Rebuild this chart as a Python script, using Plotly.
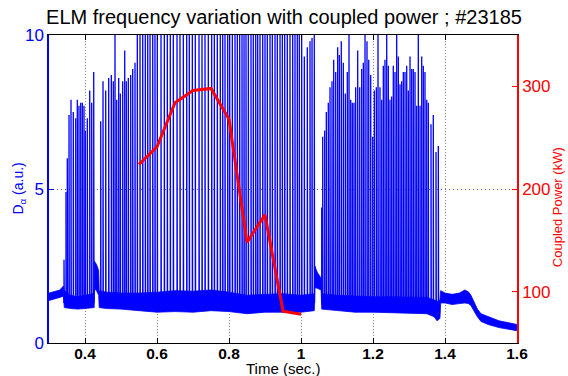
import plotly.graph_objects as go

# ---------------- data ----------------
# Coupled power (kW) vs time (s)
power_t = [0.55, 0.60, 0.65, 0.70, 0.75, 0.80, 0.85, 0.90, 0.95, 1.00]
power_kw = [224, 241, 284, 296, 298, 268, 148, 175, 81, 78]

# D-alpha baseline band (lower / upper envelope of the noisy baseline)
base_t = [0.300, 0.315, 0.330, 0.340, 0.3425, 0.360, 0.380, 0.400, 0.420, 0.4255,
          0.4265, 0.432, 0.438, 0.4395, 0.460, 0.500, 0.550, 0.600, 0.650, 0.700,
          0.750, 0.800, 0.850, 0.900, 0.950, 1.000, 1.037, 1.0385, 1.045, 1.056,
          1.0575, 1.100, 1.150, 1.200, 1.250, 1.300, 1.350, 1.370, 1.378, 1.386,
          1.388, 1.400, 1.420, 1.440, 1.455, 1.465, 1.472, 1.480, 1.490, 1.500,
          1.520, 1.550, 1.580, 1.600]
base_lo = [1.38, 1.42, 1.48, 1.52, 1.15, 1.12, 1.10, 1.12, 1.15, 1.15,
           1.75, 1.70, 1.55, 1.15, 1.12, 1.10, 1.05, 1.00, 1.02, 1.00,
           1.05, 1.02, 0.95, 1.00, 1.00, 1.00, 1.05, 1.80, 1.78, 1.72,
           1.10, 1.05, 1.00, 1.00, 0.98, 0.98, 0.95, 0.85, 0.72, 0.80,
           1.30, 1.30, 1.25, 1.28, 1.30, 1.28, 1.22, 1.05, 0.85, 0.70,
           0.60, 0.50, 0.45, 0.40]
base_hi = [1.62, 1.68, 1.72, 1.85, 1.70, 1.55, 1.50, 1.55, 1.60, 1.65,
           2.65, 2.55, 2.35, 1.70, 1.65, 1.62, 1.62, 1.65, 1.70, 1.68,
           1.72, 1.65, 1.55, 1.58, 1.60, 1.55, 1.60, 2.50, 2.30, 2.10,
           1.60, 1.55, 1.52, 1.50, 1.50, 1.50, 1.48, 1.40, 1.35, 1.40,
           1.70, 1.62, 1.58, 1.62, 1.72, 1.66, 1.55, 1.35, 1.10, 0.95,
           0.85, 0.72, 0.65, 0.60]

# ELM spikes: times (s) and peak heights (a.u.; 10 = clipped at top)
elm_t = [0.3417, 0.3472, 0.3508, 0.3556, 0.3611, 0.3675, 0.3742, 0.3786, 0.3833, 0.3881,
         0.3925, 0.3972, 0.4008, 0.4064, 0.4131, 0.4186, 0.4242,
         0.4436, 0.4500, 0.4575, 0.4658, 0.4731, 0.4786, 0.4833, 0.4881, 0.4936, 0.4981,
         0.5047, 0.5103, 0.5147, 0.5203, 0.5269, 0.5325, 0.5389, 0.5453, 0.5528, 0.5603,
         0.5675, 0.5742, 0.5806, 0.5881, 0.5944, 0.6008, 0.6111, 0.6203, 0.6286, 0.6369,
         0.6453, 0.6556, 0.6639, 0.6731, 0.6825, 0.6897, 0.6981, 0.7064, 0.7167, 0.7250,
         0.7333, 0.7425, 0.7519, 0.7592, 0.7675, 0.7758, 0.7825, 0.7889, 0.7964, 0.8019,
         0.8092, 0.8167, 0.8231, 0.8297, 0.8361, 0.8417, 0.8472, 0.8536, 0.8611, 0.8675,
         0.8742, 0.8797, 0.8861, 0.8936, 0.9000, 0.9064, 0.9139, 0.9203, 0.9278, 0.9342,
         0.9417, 0.9481, 0.9547, 0.9619, 0.9694, 0.9769, 0.9833, 0.9897, 0.9953, 1.0019,
         1.0092, 1.0175, 1.0250, 1.0306, 1.0369,
         1.0575, 1.0603, 1.0658, 1.0703, 1.0758, 1.0806, 1.0861, 1.0908, 1.0964, 1.1019,
         1.1064, 1.1119, 1.1175, 1.1231, 1.1286, 1.1333, 1.1381, 1.1425, 1.1472, 1.1519,
         1.1575, 1.1631, 1.1686, 1.1731, 1.1778, 1.1833, 1.1881, 1.1936, 1.1992, 1.2036,
         1.2092, 1.2139, 1.2194, 1.2242, 1.2286, 1.2333, 1.2381, 1.2425, 1.2472, 1.2519,
         1.2564, 1.2611, 1.2658, 1.2703, 1.2750, 1.2797, 1.2842, 1.2889, 1.2936, 1.2981,
         1.3028, 1.3075, 1.3119, 1.3167, 1.3214, 1.3258, 1.3306, 1.3353, 1.3397, 1.3444,
         1.3492, 1.3536, 1.3611, 1.3675, 1.3750, 1.3814]
elm_h = [2.7, 4.9, 6.0, 7.4, 7.9, 7.5, 7.3, 7.9, 7.7, 7.8,
         7.8, 7.7, 6.9, 7.3, 8.2, 7.8, 8.8,
         7.2, 8.5, 8.2, 8.6, 8.7, 8.5, 10, 7.9, 8.6, 8.1,
         8.5, 9.5, 8.5, 8.6, 8.7, 8.9, 9.1, 10, 10, 10,
         10, 10, 10, 10, 10, 10, 10, 10, 10, 10,
         10, 10, 10, 10, 10, 10, 10, 10, 10, 10,
         10, 10, 10, 10, 10, 10, 10, 10, 10, 10,
         10, 10, 10, 10, 10, 10, 10, 10, 10, 10,
         10, 10, 10, 10, 10, 10, 10, 10, 10, 10,
         10, 10, 10, 10, 10, 10, 10, 10, 10, 10,
         9.3, 9.6, 9.8, 9.9, 10,
         4.4, 6.7, 6.9, 7.5, 7.8, 8.3, 8.5, 9.2, 8.8, 9.6,
         9.35, 9.8, 9.1, 8.1, 8.8, 10, 7.9, 7.8, 7.8, 8.3,
         9.5, 8.3, 8.9, 9.1, 10, 9.8, 9.2, 8.7, 6.7, 8.2,
         8.3, 10, 8.3, 7.9, 9.0, 9.2, 10, 9.0, 7.9, 8.0,
         9.0, 8.8, 10, 9.3, 8.4, 8.5, 8.8, 8.8, 9.0, 8.2,
         9.3, 8.9, 8.9, 8.8, 7.7, 10, 7.7, 9.3, 9.0, 8.8,
         7.9, 7.8, 7.1, 7.4, 6.2, 6.4]

x_ticks = [0.4, 0.6, 0.8, 1.0, 1.2, 1.4, 1.6]
x_ticktext = ["0.4", "0.6", "0.8", "1", "1.2", "1.4", "1.6"]
y_ticks = [0, 5, 10]
y2_ticks = [100, 200, 300]

# ---------------- style ----------------
BLUE = "#0000ff"
RED = "#ff0000"
FONT = "Liberation Sans, Arial, Helvetica, sans-serif"
SPIKE_FOOT = 1.3
SPIKE_FALL = 0.0008

# build spike polyline from the spike list
sx, sy = [], []
for t, h in zip(elm_t, elm_h):
    sx += [t, t, t + SPIKE_FALL, None]
    sy += [SPIKE_FOOT, h, SPIKE_FOOT, None]

fig = go.Figure()
fig.add_trace(go.Scatter(x=base_t, y=base_lo, mode="lines",
                         line=dict(color=BLUE, width=0.8), showlegend=False,
                         hoverinfo="skip"))
fig.add_trace(go.Scatter(x=base_t, y=base_hi, mode="lines", fill="tonexty",
                         fillcolor=BLUE, line=dict(color=BLUE, width=0.8),
                         showlegend=False, hoverinfo="skip"))
fig.add_trace(go.Scatter(x=sx, y=sy, mode="lines",
                         line=dict(color=BLUE, width=1.3), showlegend=False,
                         connectgaps=False))
fig.add_trace(go.Scatter(x=power_t, y=power_kw, mode="lines", yaxis="y2",
                         line=dict(color=RED, width=3), showlegend=False))

fig.update_layout(
    width=568, height=376,
    margin=dict(l=49, r=51, t=35, b=33),
    paper_bgcolor="white", plot_bgcolor="white",
    font=dict(family=FONT, size=14, color="black"),
    title=dict(text="ELM frequency variation with coupled power ; #23185",
               x=0.5, xanchor="center", y=(376 - 17) / 376, yanchor="middle",
               yref="container", xref="container",
               font=dict(size=20, color="black", family=FONT)),
    xaxis=dict(range=[0.3, 1.6], tickvals=x_ticks, ticktext=x_ticktext,
               showgrid=True, gridcolor="#8a8a8a", griddash="1px,2px", gridwidth=1,
               showline=True, linecolor="black", linewidth=1, mirror="ticks",
               ticks="inside", ticklen=5, tickcolor="black",
               ticklabelstandoff=-4,
               tickfont=dict(size=15.5, color="black", weight="bold", family=FONT),
               zeroline=False),
    yaxis=dict(range=[0, 10], tickvals=y_ticks,
               showgrid=True, gridcolor="rgba(60,60,255,0.8)", griddash="1px,3px",
               gridwidth=1, showline=True, linecolor=BLUE, linewidth=1.5,
               ticks="inside", ticklen=5, tickcolor=BLUE,
               tickfont=dict(size=17, color=BLUE, family=FONT),
               zeroline=False),
    yaxis2=dict(range=[50, 350], tickvals=y2_ticks, overlaying="y", side="right",
                showgrid=False, showline=True, linecolor=RED, linewidth=1.5,
                ticks="inside", ticklen=5, tickcolor=RED,
                tickfont=dict(size=17, color=RED, family=FONT),
                zeroline=False),
    annotations=[
        dict(text="D<sub>α</sub> (a.u.)", xref="paper", yref="paper",
             x=-0.065, y=0.5, xanchor="center", yanchor="middle", textangle=-90,
             showarrow=False, font=dict(size=14, color=BLUE, family=FONT)),
        dict(text="Coupled Power (kW)", xref="paper", yref="paper",
             x=1.087, y=0.44, xanchor="center", yanchor="middle", textangle=-90,
             showarrow=False, font=dict(size=13, color=RED, family=FONT)),
        dict(text="Time (sec.)", xref="paper", yref="paper",
             x=0.5, y=-0.0815, xanchor="center", yanchor="middle",
             showarrow=False, font=dict(size=15, color="black", family=FONT)),
    ],
)

fig.write_html("out.html")
